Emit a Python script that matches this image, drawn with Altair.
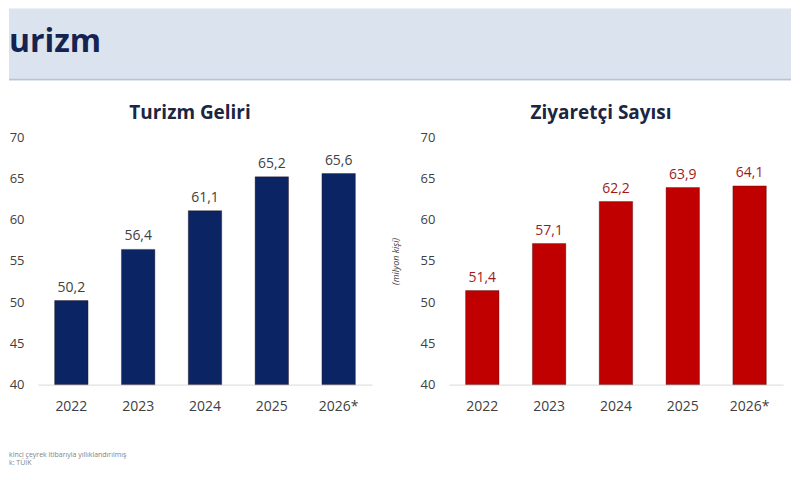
import pandas as pd
import altair as alt

years = ["2022", "2023", "2024", "2025", "2026*"]
gelir = [50.2, 56.4, 61.1, 65.2, 65.6]
ziyaretci = [51.4, 57.1, 62.2, 63.9, 64.1]
y_ticks = [40, 45, 50, 55, 60, 65, 70]
note_line = "* 2026 yılı ikinci çeyrek itibarıyla yıllıklandırılmış"
source_line = "Kaynak: TÜİK"

FONT = "Open Sans"
LEFT = -29  # left edge of the slide, to line up with the first panel's y labels


def fmt(v):
    return f"{v:.1f}".replace(".", ",")


def panel(values, title, bar_color, label_color, y_title=None):
    df = pd.DataFrame({"yil": years, "deger": values, "etiket": [fmt(v) for v in values]})
    base = alt.Chart(df).encode(
        x=alt.X("yil:N", sort=years,
                scale=alt.Scale(paddingInner=0.5, paddingOuter=0.25),
                axis=alt.Axis(title=None, labelAngle=0, ticks=False, domainColor="#d9d9d9",
                              labelFontSize=14, labelColor="#404040", labelPadding=15,
                              labelFont=FONT))
    )
    yaxis = dict(values=y_ticks, grid=False, ticks=False, domain=False, labelFontSize=13,
                 labelColor="#404040", labelPadding=14, labelFont=FONT)
    if y_title:
        yaxis.update(title=y_title, titleFontSize=9, titleFontStyle="italic",
                     titleFontWeight="normal", titleColor="#404040", titlePadding=20,
                     titleFont=FONT)
    else:
        yaxis.update(title=None)
    bars = base.mark_bar(color=bar_color, stroke="#2a0a0a", strokeOpacity=0.35, strokeWidth=1).encode(
        y=alt.Y("deger:Q", scale=alt.Scale(domain=[40, 70], zero=False, nice=False),
                axis=alt.Axis(**yaxis)),
        y2=alt.datum(40),
    )
    text = base.mark_text(dy=-13, fontSize=14, color=label_color, font=FONT).encode(
        y="deger:Q", text="etiket:N"
    )
    return (bars + text).properties(
        width=335, height=248,
        title=alt.Title(title, fontSize=19, fontWeight="bold", color="#1c2541", font=FONT,
                        anchor="middle", frame="group", dx=-15, offset=8),
    )


# slide header band; the first letter is cut by the left edge as in the source
hdr = pd.DataFrame({"baslik": ["Turizm"]})
band = alt.Chart(hdr).mark_rect(color="#dbe3ef").encode(
    x=alt.value(LEFT), x2=alt.value(LEFT + 784), y=alt.value(0), y2=alt.value(72)
)
band_line = alt.Chart(hdr).mark_rule(color="#b9c3d6", strokeWidth=1.5).encode(
    x=alt.value(LEFT), x2=alt.value(LEFT + 784), y=alt.value(71)
)
hdr_text = alt.Chart(hdr).mark_text(
    align="left", baseline="middle", fontSize=32, fontWeight="bold",
    color="#14234f", font=FONT, dir="rtl", limit=96, ellipsis="\u200b"
).encode(x=alt.value(LEFT), y=alt.value(34), text="baslik:N")
header = (band + band_line + hdr_text).properties(width=700, height=72)

notes = pd.DataFrame({"metin": [note_line, source_line]})
foot_style = dict(align="left", baseline="middle", fontSize=7, color="#7f7f7f",
                  font=FONT, dir="rtl", ellipsis="\u200b")
foot1 = alt.Chart(notes).transform_filter(alt.datum.metin == note_line).mark_text(
    limit=118, **foot_style
).encode(x=alt.value(LEFT), y=alt.value(4), text="metin:N")
foot2 = alt.Chart(notes).transform_filter(alt.datum.metin == source_line).mark_text(
    limit=26, **foot_style
).encode(x=alt.value(LEFT), y=alt.value(12), text="metin:N")
footer = (foot1 + foot2).properties(width=700, height=14)

row = alt.hconcat(
    panel(gelir, "Turizm Geliri", "#0b2463", "#404040"),
    panel(ziyaretci, "Ziyaretçi Sayısı", "#c00000", "#9e1a1a", y_title="(milyon kişi)"),
    spacing=19,
)

top = alt.concat(header, row, columns=1, spacing=24, align="none")
chart = alt.concat(top, footer, columns=1, spacing=38, align="none").properties(
    padding=0
).configure_view(stroke=None)

chart.save("out.html", embed_options={"renderer": "svg", "actions": False})
